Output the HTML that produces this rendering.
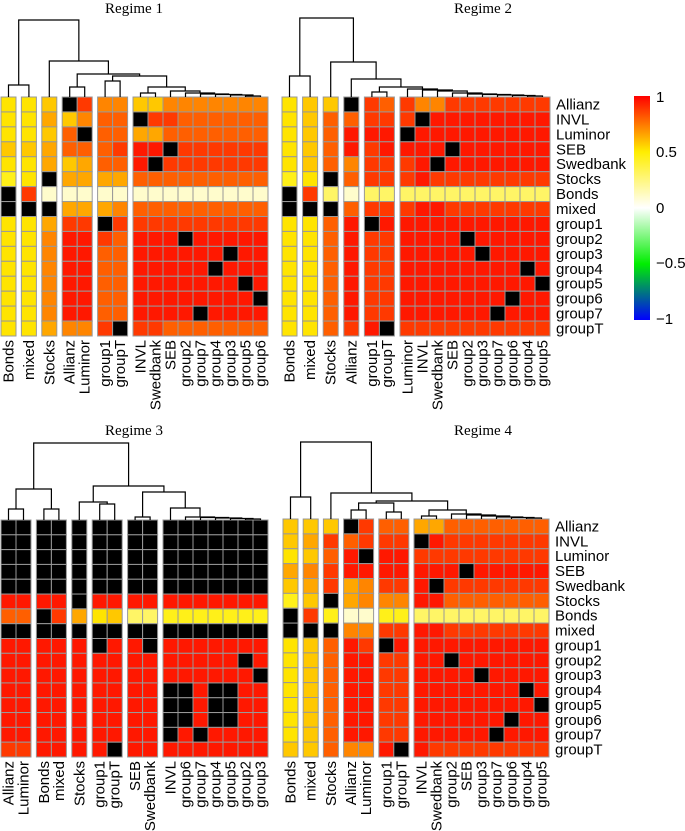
<!DOCTYPE html>
<html><head><meta charset="utf-8">
<style>
body{margin:0;background:#fff;}
svg{display:block;}
.t{font-family:"Liberation Serif",serif;font-size:15px;}
.l{font-family:"Liberation Sans",sans-serif;font-size:15px;fill:#000;}
</style></head>
<body>
<svg id="fig" width="685" height="831" xmlns="http://www.w3.org/2000/svg">
<defs>
<linearGradient id="cb" x1="0" y1="0" x2="0" y2="1">
<stop offset="0" stop-color="#ff0000"/><stop offset="0.25" stop-color="#ffee00"/>
<stop offset="0.5" stop-color="#ffffff"/><stop offset="0.75" stop-color="#00ee00"/>
<stop offset="1" stop-color="#0000ff"/></linearGradient>
</defs>
<g>
<rect x="634" y="96" width="16" height="224" fill="url(#cb)"/>
<text class="l" x="656" y="102">1</text>
<text class="l" x="656" y="157">0.5</text>
<text class="l" x="656" y="213">0</text>
<text class="l" x="656" y="268">−0.5</text>
<text class="l" x="656" y="324">−1</text>
</g>
</svg>
<script>
const rowNames=["Allianz","INVL","Luminor","SEB","Swedbank","Stocks","Bonds","mixed","group1","group2","group3","group4","group5","group6","group7","groupT"];
const codeValues={"0":0.1,"1":0.3,"2":0.45,"3":0.52,"4":0.58,"5":0.65,"6":0.72,"7":0.8,"8":0.88,"9":0.95};
const cols1=["Bonds","mixed","Stocks","Allianz","Luminor","group1","groupT","INVL","Swedbank","SEB","group2","group7","group4","group3","group5","group6"];
const groups1=[1,1,1,2,2,9];
const vals1=["334K866446666666","3354677K88777777","3347K77557777777","445777899K888888","33545779K8888888","23K5555777777777","K800000000000000","KKK5556777777777","33588K8888888888","3369987999K99999","3369977999999K99","336997799999K999","33699779999999K9","336997799999999K","33699779999K9999","335668K887777777"];
const merges1=[[14,15,1],[13,16,2],[12,17,2.5],[11,18,3],[10,19,4],[9,20,6],[7,8,4],[22,21,10],[5,6,16],[24,23,21],[3,4,10],[26,25,23],[2,27,36],[0,1,12],[29,28,77]];
const cols2=["Bonds","mixed","Stocks","Allianz","group1","groupT","Luminor","INVL","Swedbank","SEB","group2","group3","group7","group6","group4","group5"];
const groups2=[1,1,1,1,2,10];
const vals2=["344K878668888888","3477888K99999999","347999K999999999","347989999K999999","34768889K9999999","23K7888988888888","K810111111111111","KKK7888998888888","3379K99999999999","3379889999K99999","33798899999K9999","33798899999999K9","337988999999999K","3379889999999K99","337988999999K999","33789K8888888888"];
const merges2=[[14,15,1],[13,16,1.5],[12,17,2],[11,18,2.5],[10,19,3],[9,20,4],[8,21,6],[7,22,7],[6,23,8],[4,5,5],[25,24,10],[3,26,18],[2,27,35],[0,1,21],[29,28,79]];
const cols3=["Allianz","Luminor","Bonds","mixed","Stocks","group1","groupT","SEB","Swedbank","INVL","group6","group7","group4","group5","group2","group3"];
const groups3=[2,2,1,2,2,7];
const vals3=["KKKKKKKKKKKKKKKK","KKKKKKKKKKKKKKKK","KKKKKKKKKKKKKKKK","KKKKKKKKKKKKKKKK","KKKKKKKKKKKKKKKK","9999K99999999999","77K8534112222222","KKKKKKKKKKKKKKKK","99999K99K9999999","99999999999999K9","999999999999999K","999999999KK9KK99","999999999KK9KK99","999999999KK9KK99","999999999K9K9999","889999K999999999"];
const merges3=[[14,15,1],[13,16,1.5],[12,17,2],[11,18,2.5],[10,19,3],[9,20,12],[7,8,3],[22,21,28],[5,6,16],[4,24,18],[25,23,34],[0,1,11],[2,3,11],[27,28,31],[29,26,77]];
const cols4=["Bonds","mixed","Stocks","Allianz","Luminor","group1","groupT","INVL","Swedbank","group2","SEB","group3","group7","group6","group4","group5"];
const groups4=[1,1,1,2,2,9];
const vals4=["444K877557777777","4587888K98888888","3479K99888888888","5689999999K99999","45856889K8888888","24K5666997777777","K820022111111111","KKK6688998888888","34798K9999999999","347998899K999999","34799889999K9999","34799889999999K9","347998899999999K","3479988999999K99","347998899999K999","447669K988888888"];
const merges4=[[14,15,1],[13,16,1.5],[12,17,2],[11,18,3],[10,19,4],[9,20,5],[7,8,3],[22,21,9],[5,6,7],[3,4,9],[25,24,16],[26,23,18],[2,27,26],[0,1,22],[29,28,77]];

const NS="http://www.w3.org/2000/svg";
const svg=document.getElementById('fig');
function colorOf(v){
  let r,g,b;
  if(v<=0.5){const t=v/0.5;r=255;g=255-t*17;b=255*(1-t);}
  else{const t=(v-0.5)/0.5;r=255;g=238*(1-t);b=0;}
  return `rgb(${Math.round(r)},${Math.round(g)},${Math.round(b)})`;
}
function mk(tag,attrs){const e=document.createElementNS(NS,tag);for(const k in attrs)e.setAttribute(k,attrs[k]);return e;}
function panel(p){
  const g=mk('g',{});
  
  
  svg.appendChild(g);
  const cw=15,ch=(p.y1-p.y0)/16;
  const gap=(p.x1-p.x0-16*cw)/(p.groups.length-1);
  const xs=[];let x=p.x0;
  p.groups.forEach((n)=>{for(let i=0;i<n;i++){xs.push(x);x+=cw;}x+=gap;});
  const t=mk('text',{class:'t',x:p.tx,y:p.ty,'text-anchor':'middle'});
  
  
  t.textContent=p.title;g.appendChild(t);
  for(let r=0;r<16;r++)for(let c=0;c<16;c++){
    const code=p.vals[r][c];
    const fill=code==='K'?'#000':colorOf(codeValues[code]);
    const rc=mk('rect',{x:xs[c],y:p.y0+r*ch,width:cw,height:ch,fill:fill,stroke:'#999','stroke-width':1});
    
    
    g.appendChild(rc);
  }
  p.cols.forEach((name,c)=>{
    const cx=xs[c]+cw/2+5,cy=p.y1+4;
    const tx=mk('text',{class:'l',x:cx,y:cy,'text-anchor':'end',transform:`rotate(-90 ${cx} ${cy})`});
    
    
    tx.textContent=name;g.appendChild(tx);
  });
  if(p.rowLabels){
    rowNames.forEach((name,r)=>{
      const tx=mk('text',{class:'l',x:p.x1+6,y:p.y0+r*ch+ch/2+5});
      
      
      tx.textContent=name;g.appendChild(tx);
    });
  }
  const nx=xs.map(v=>v+cw/2),nh=xs.map(()=>0);
  let d='';
  p.merges.forEach(m=>{
    const [a,b,h]=m;const y=p.y0-h;
    d+=`M${nx[a]} ${p.y0-nh[a]}V${y}H${nx[b]}V${p.y0-nh[b]}`;
    nx.push((nx[a]+nx[b])/2);nh.push(h);
  });
  const path=mk('path',{d:d,fill:'none',stroke:'#000','stroke-width':1.2});
  
  
  g.appendChild(path);
}
panel({id:1,title:'Regime 1',tx:134,ty:13,x0:1,x1:268,y0:97,y1:336,cols:cols1,groups:groups1,vals:vals1,merges:merges1,rowLabels:false});
panel({id:2,title:'Regime 2',tx:483,ty:13,x0:282,x1:550,y0:97,y1:336,cols:cols2,groups:groups2,vals:vals2,merges:merges2,rowLabels:true});
panel({id:3,title:'Regime 3',tx:134,ty:435,x0:1,x1:268,y0:520,y1:757,cols:cols3,groups:groups3,vals:vals3,merges:merges3,rowLabels:false});
panel({id:4,title:'Regime 4',tx:483,ty:435,x0:283,x1:549,y0:519,y1:757,cols:cols4,groups:groups4,vals:vals4,merges:merges4,rowLabels:true});
</script>
</body></html>
